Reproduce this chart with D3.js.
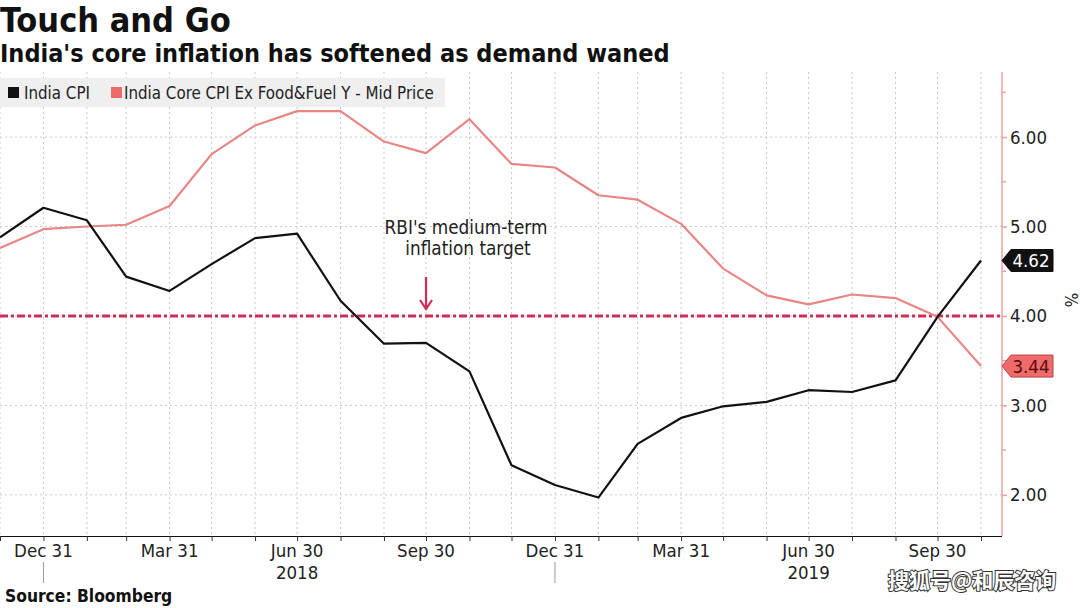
<!DOCTYPE html>
<html>
<head>
<meta charset="utf-8">
<script src="https://cdn.jsdelivr.net/npm/d3@7"></script>
<style>
  html, body { margin: 0; padding: 0; background: #fff; }
  svg { display: block; }
  .cond { font-family: 'DejaVu Sans Condensed', 'DejaVu Sans', sans-serif; font-stretch: condensed; }
</style>
</head>
<body>
<svg id="chart" width="1080" height="608"></svg>
<script>
// ---- data ----
const months = ["2017-11-30","2017-12-31","2018-01-31","2018-02-28","2018-03-31","2018-04-30",
  "2018-05-31","2018-06-30","2018-07-31","2018-08-31","2018-09-30","2018-10-31",
  "2018-11-30","2018-12-31","2019-01-31","2019-02-28","2019-03-31","2019-04-30",
  "2019-05-31","2019-06-30","2019-07-31","2019-08-31","2019-09-30","2019-10-31"];
const indiaCPI = [4.88,5.21,5.07,4.44,4.28,4.58,4.87,4.92,4.17,3.69,3.70,3.38,
  2.33,2.11,1.97,2.57,2.86,2.99,3.04,3.17,3.15,3.28,3.99,4.62];
const coreCPI = [4.76,4.97,5.00,5.02,5.23,5.81,6.13,6.29,6.29,5.95,5.82,6.20,
  5.70,5.66,5.35,5.30,5.03,4.53,4.23,4.13,4.24,4.20,3.99,3.44];
const yTicks = [2, 3, 4, 5, 6];
const yMinorTicks = [2.5, 3.5, 4.5, 5.5, 6.5];
const quarterLabels = ["Dec 31","Mar 31","Jun 30","Sep 30","Dec 31","Mar 31","Jun 30","Sep 30"];
const yearLabels = [{year:"2018", date:"2018-06-30"}, {year:"2019", date:"2019-06-30"}];
const yearBreaks = ["2017-12-31","2018-12-31"];
const targetRate = 4.0;
const seriesNames = ["India CPI", "India Core CPI Ex Food&Fuel Y - Mid Price"];

// ---- setup ----
const parse = d3.timeParse("%Y-%m-%d");
const dates = months.map(parse);
const svg = d3.select("#chart");
const pLeft = 0, pRight = 1002, pTop = 72, pBottom = 536;

const x = d3.scaleTime().domain([parse("2017-11-30"), parse("2019-11-15")]).range([pLeft, pRight]);
const y = d3.scaleLinear().domain([1.54, 6.75]).range([pBottom, 70]);

const colBlack = "#111111";
const colCore = "#e88585";
const colTarget = "#cf2d56";

// title
svg.append("text").attr("class","cond").attr("x", 0).attr("y", 32)
  .attr("font-size", 34).attr("font-weight", "bold").attr("fill", "#111").text("Touch and Go");
svg.append("text").attr("class","cond").attr("x", 0).attr("y", 62)
  .attr("font-size", 25).attr("font-weight", "bold").attr("fill", "#111")
  .text("India's core inflation has softened as demand waned");

// gridlines
svg.append("g").selectAll("line").data(dates).join("line")
  .attr("x1", d => x(d)).attr("x2", d => x(d)).attr("y1", pTop).attr("y2", pBottom)
  .attr("stroke", "#c8c8c8").attr("stroke-width", 1).attr("stroke-dasharray", "2,3");
svg.append("g").selectAll("line").data(yTicks).join("line")
  .attr("x1", pLeft).attr("x2", pRight).attr("y1", d => y(d)).attr("y2", d => y(d))
  .attr("stroke", "#c8c8c8").attr("stroke-width", 1).attr("stroke-dasharray", "2,3");

// legend
svg.append("rect").attr("x", 0).attr("y", 78).attr("width", 445).attr("height", 29).attr("fill", "#efefef");
svg.append("rect").attr("x", 8).attr("y", 87).attr("width", 11).attr("height", 11).attr("fill", colBlack);
svg.append("text").attr("class","cond").attr("x", 24).attr("y", 98.5).attr("font-size", 16.8).attr("fill", "#222").text(seriesNames[0]);
svg.append("rect").attr("x", 111).attr("y", 87).attr("width", 11).attr("height", 11).attr("fill", "#ef6b6b");
svg.append("text").attr("class","cond").attr("x", 124).attr("y", 98.5).attr("font-size", 16.8).attr("fill", "#222").text(seriesNames[1]);

// target line
svg.append("line").attr("x1", pLeft).attr("x2", pRight).attr("y1", y(targetRate)).attr("y2", y(targetRate))
  .attr("stroke", colTarget).attr("stroke-width", 3).attr("stroke-dasharray", "8,3,3,3");

// lines
const line = d3.line().x((d, i) => x(dates[i])).y(d => y(d));
svg.append("path").datum(coreCPI).attr("d", line).attr("fill", "none")
  .attr("stroke", colCore).attr("stroke-width", 2.2).attr("stroke-linejoin", "round");
svg.append("path").datum(indiaCPI).attr("d", line).attr("fill", "none")
  .attr("stroke", colBlack).attr("stroke-width", 2.2).attr("stroke-linejoin", "round");

// annotation
const annX = x(parse("2018-09-30"));
svg.append("text").attr("class","cond").attr("x", 466).attr("y", 234).attr("text-anchor","middle")
  .attr("font-size", 18.8).attr("fill", "#222").text("RBI's medium-term");
svg.append("text").attr("class","cond").attr("x", 468).attr("y", 255).attr("text-anchor","middle")
  .attr("font-size", 18.8).attr("fill", "#222").text("inflation target");
svg.append("line").attr("x1", annX).attr("x2", annX).attr("y1", 277).attr("y2", 308)
  .attr("stroke", colTarget).attr("stroke-width", 2.2);
svg.append("path").attr("d", `M${annX-6},${300} L${annX},${309} L${annX+6},${300}`)
  .attr("fill", "none").attr("stroke", colTarget).attr("stroke-width", 2.2).attr("stroke-linejoin","miter");

// right axis
svg.append("line").attr("x1", pRight).attr("x2", pRight).attr("y1", pTop).attr("y2", pBottom)
  .attr("stroke", "#eaa2a2").attr("stroke-width", 1.5);
const yAxis = d3.axisRight(y).tickValues(yTicks).tickSize(5).tickFormat(d3.format(".2f"));
const gy = svg.append("g").attr("transform", `translate(${pRight},0)`).call(yAxis);
gy.select(".domain").remove();
gy.selectAll(".tick line").attr("stroke", "#eaa2a2").attr("stroke-width", 1.5);
gy.selectAll(".tick text").attr("class","cond").attr("font-size", 18.5).attr("fill", "#222").attr("x", 8);
svg.append("g").selectAll("line").data(yMinorTicks).join("line")
  .attr("x1", pRight).attr("x2", pRight + 4).attr("y1", d => y(d)).attr("y2", d => y(d))
  .attr("stroke", "#eaa2a2").attr("stroke-width", 1.5);
svg.append("text").attr("class","cond").attr("font-size", 17).attr("fill", "#222")
  .attr("transform", `translate(1065,300) rotate(90)`).attr("text-anchor","middle").text("%");

// end labels
function endLabel(val, fill, stroke, textCol) {
  const cy = y(val);
  const p = d3.path();
  p.moveTo(pRight, cy); p.lineTo(pRight + 9, cy - 11); p.lineTo(1053, cy - 11);
  p.lineTo(1053, cy + 11); p.lineTo(pRight + 9, cy + 11); p.closePath();
  svg.append("path").attr("d", p.toString()).attr("fill", fill).attr("stroke", stroke).attr("stroke-width", 1);
  svg.append("text").attr("class","cond").attr("x", 1031).attr("y", cy + 6.5).attr("text-anchor","middle")
    .attr("font-size", 18.5).attr("fill", textCol).text(d3.format(".2f")(val));
}
endLabel(indiaCPI[indiaCPI.length-1], "#111", "#111", "#fff");
endLabel(coreCPI[coreCPI.length-1], "#ef6b6b", "#b84444", "#5a0a0a");

// bottom axis
const xAxis = d3.axisBottom(x).tickValues(dates).tickSize(5).tickFormat("");
const gx = svg.append("g").attr("transform", `translate(0,${pBottom})`).call(xAxis);
gx.select(".domain").attr("stroke", "#111").attr("stroke-width", 1.2).attr("d", `M${pLeft},0.5H${pRight}`);
gx.selectAll(".tick line").attr("stroke", "#333");
const quarterDates = dates.filter(d => [2,5,8,11].includes(d.getMonth()));
svg.append("g").selectAll("text").data(quarterDates).join("text").attr("class","cond")
  .attr("x", d => x(d)).attr("y", 557).attr("text-anchor","middle").attr("font-size", 18.5).attr("fill", "#222")
  .text((d, i) => quarterLabels[i]);
svg.append("g").selectAll("text").data(yearLabels).join("text").attr("class","cond")
  .attr("x", d => x(parse(d.date))).attr("y", 579).attr("text-anchor","middle").attr("font-size", 18.5).attr("fill", "#222")
  .text(d => d.year);
svg.append("g").selectAll("line").data(yearBreaks).join("line")
  .attr("x1", d => x(parse(d))).attr("x2", d => x(parse(d))).attr("y1", 562).attr("y2", 583)
  .attr("stroke", "#999").attr("stroke-width", 1);

// source
svg.append("text").attr("class","cond").attr("x", 5).attr("y", 602).attr("font-size", 17.3).attr("font-weight","bold")
  .attr("fill", "#111").text("Source: Bloomberg");

// watermark
svg.append("text").attr("x", 888).attr("y", 588).attr("font-family", "'Noto Sans CJK SC', sans-serif")
  .attr("font-size", 21).attr("font-weight", "bold").attr("fill", "#fff").attr("stroke", "#333")
  .attr("stroke-width", 2).attr("paint-order", "stroke").text("搜狐号@和辰咨询");
</script>
</body>
</html>
